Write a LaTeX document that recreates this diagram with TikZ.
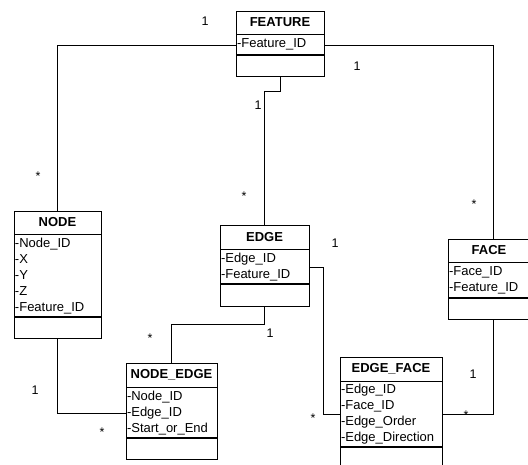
\documentclass[tikz,border=0pt]{standalone}
\usepackage{fontspec}
\setmainfont{Liberation Sans}
\usetikzlibrary{positioning}

\tikzset{
    classname/.style={draw, thick, inner sep=0pt, minimum height=23pt,
                      font=\fontsize{13}{15}\selectfont\bfseries},
    classattr/.style={draw, thick, align=left, inner xsep=1pt, inner ysep=2pt,
                      font=\fontsize{13}{16}\selectfont},
    classops/.style={draw, thick, inner sep=0pt, minimum height=21pt},
    mult/.style={font=\fontsize{12.5}{14}\selectfont, inner sep=1pt},
    link/.style={semithick}
}

\begin{document}
\begin{tikzpicture}[x=1pt, y=-1pt]
    \useasboundingbox (0,0) rectangle (528,464);

    % Classes
    \node[classname, minimum width=88pt] (feature) at (280,22.5) {FEATURE};
    \node[classattr, text width=86pt, minimum height=20pt, below=0pt of feature] (feature-a) {-Feature\_ID};
    \node[classops, minimum width=88pt, below=0pt of feature-a] (feature-o) {};

    \node[classname, minimum width=87pt] (node) at (57.5,222.5) {NODE};
    \node[classattr, text width=85pt, minimum height=82pt, below=0pt of node] (node-a)
        {-Node\_ID\\-X\\-Y\\-Z\\-Feature\_ID};
    \node[classops, minimum width=87pt, below=0pt of node-a] (node-o) {};

    \node[classname, minimum width=89pt, minimum height=24pt] (edge) at (264.5,237) {EDGE};
    \node[classattr, text width=87pt, minimum height=34pt, below=0pt of edge] (edge-a)
        {-Edge\_ID\\-Feature\_ID};
    \node[classops, minimum width=89pt, minimum height=22pt, below=0pt of edge-a] (edge-o) {};

    \node[classname, minimum width=90pt] (face) at (493,250.5) {\hspace*{-8pt}FACE};
    \node[classattr, text width=88pt, minimum height=35pt, below=0pt of face] (face-a)
        {-Face\_ID\\-Feature\_ID};
    \node[classops, minimum width=90pt, below=0pt of face-a] (face-o) {};

    \node[classname, minimum width=91pt, minimum height=24pt] (nodeedge) at (171.5,375) {NODE\_EDGE};
    \node[classattr, text width=89pt, minimum height=50pt, below=0pt of nodeedge] (nodeedge-a)
        {-Node\_ID\\-Edge\_ID\\-Start\_or\_End};
    \node[classops, minimum width=91pt, below=0pt of nodeedge-a] (nodeedge-o) {};

    \node[classname, minimum width=102pt, minimum height=24pt] (edgeface) at (391,369) {EDGE\_FACE};
    \node[classattr, text width=100pt, minimum height=65pt, below=0pt of edgeface] (edgeface-a)
        {-Edge\_ID\\-Face\_ID\\-Edge\_Order\\-Edge\_Direction};
    \node[classops, minimum width=102pt, minimum height=22pt, below=0pt of edgeface-a] (edgeface-o) {};

    % Associations
    \draw[link] (feature-a.west) -| (node.north);
    \draw[link] (feature-a.east) -| (face.north);
    \draw[link] (feature-o.south) -- ++(0,14) -| (edge.north);
    \draw[link] (node-o.south) |- (nodeedge-a.west);
    \draw[link] (edge-o.south) -- ++(0,17) -| (nodeedge.north);
    \draw[link] (edge-a.east) -- ++(14,0) |- (edgeface-a.west);
    \draw[link] (face-o.south) |- (edgeface-a.east);

    % Multiplicities
    \node[mult] (m-feature-node) at (205,21) {1};
    \node[mult] (m-feature-face) at (357,66) {1};
    \node[mult] (m-feature-edge) at (258,105) {1};
    \node[mult] (m-node-feature) at (38,176) {*};
    \node[mult] (m-edge-feature) at (244,196) {*};
    \node[mult] (m-edge-edgeface) at (335,243) {1};
    \node[mult] (m-face-feature) at (474,204) {*};
    \node[mult] (m-nodeedge-edge) at (150,338) {*};
    \node[mult] (m-edge-nodeedge) at (270,333) {1};
    \node[mult] (m-node-nodeedge) at (35,390) {1};
    \node[mult] (m-nodeedge-node) at (102,432) {*};
    \node[mult] (m-edgeface-edge) at (313,418) {*};
    \node[mult] (m-face-edgeface) at (473,374) {1};
    \node[mult] (m-edgeface-face) at (466,415) {*};
\end{tikzpicture}
\end{document}
